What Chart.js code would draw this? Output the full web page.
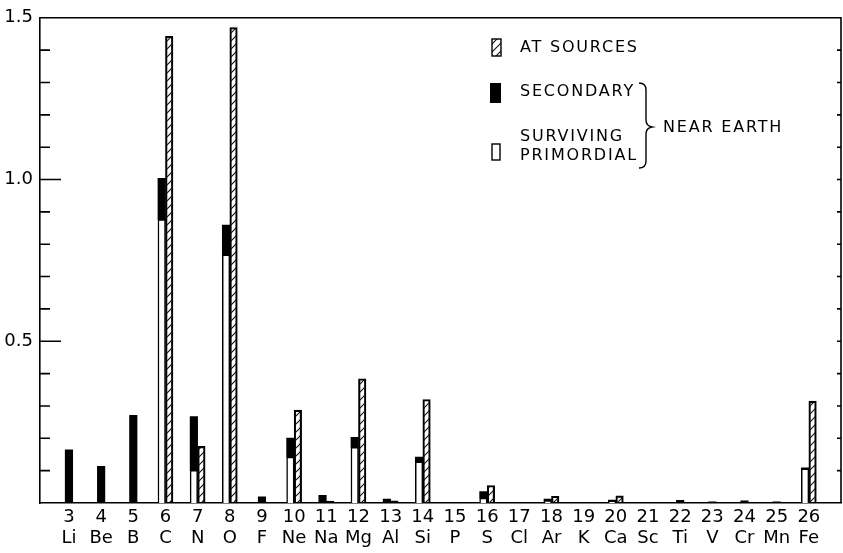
<!DOCTYPE html>
<html>
<head>
<meta charset="utf-8">
<script src="https://cdn.jsdelivr.net/npm/chart.js@4.4.0/dist/chart.umd.min.js"></script>
<style>
  html, body { margin: 0; padding: 0; background: #fff; }
</style>
</head>
<body>
<canvas id="chart" width="843" height="553"></canvas>
<script>
// Datos del gráfico
const atomicNumbers = [3, 4, 5, 6, 7, 8, 9, 10, 11, 12, 13, 14, 15, 16, 17, 18, 19, 20, 21, 22, 23, 24, 25, 26];
const elements = ['Li', 'Be', 'B', 'C', 'N', 'O', 'F', 'Ne', 'Na', 'Mg', 'Al', 'Si', 'P', 'S', 'Cl', 'Ar', 'K', 'Ca', 'Sc', 'Ti', 'V', 'Cr', 'Mn', 'Fe'];
const survivingPrimordial = [null, null, null, 0.876, 0.101, 0.767, null, 0.142, null, 0.172, null, 0.127, null, 0.015, null, 0.005, null, 0.004, null, null, null, null, null, 0.106];
const secondary = [0.164, 0.113, 0.271, 0.128, 0.166, 0.092, 0.019, 0.059, 0.024, 0.031, 0.012, 0.015, 0.002, 0.020, 0.002, 0.007, 0.002, 0.005, 0.002, 0.008, 0.004, 0.007, 0.004, 0.003];
const atSources = [null, null, null, 1.443, 0.175, 1.470, null, 0.287, 0.006, 0.384, 0.007, 0.320, null, 0.054, null, 0.021, null, 0.022, null, null, null, null, null, 0.315];
const yTickValues = [0.1, 0.2, 0.3, 0.4, 0.5, 0.6, 0.7, 0.8, 0.9, 1.0, 1.1, 1.2, 1.3, 1.4, 1.5];
const yLabelValues = [0.5, 1.0, 1.5];
const legendLabels = ['AT SOURCES', 'SECONDARY', ['SURVIVING', 'PRIMORDIAL']];
const braceLabel = 'NEAR EARTH';

const FONT = '"DejaVu Sans", sans-serif';

function makeHatch() {
    const c = document.createElement('canvas');
    c.width = 8; c.height = 8;
    const g = c.getContext('2d');
    g.strokeStyle = '#111';
    g.lineWidth = 1.1;
    g.beginPath();
    g.moveTo(0, 8); g.lineTo(8, 0);
    g.moveTo(-1, 1); g.lineTo(1, -1);
    g.moveTo(7, 9); g.lineTo(9, 7);
    g.stroke();
    return g.createPattern(c, 'repeat');
}
const hatch = makeHatch();

function points(values) {
    return atomicNumbers.map((z, i) => ({ x: z, y: values[i] }));
}

// Marco superior/derecho y marcas hacia dentro
const framePlugin = {
    id: 'frame',
    afterDatasetsDraw(chart) {
        const { ctx, chartArea: a, scales: { y } } = chart;
        ctx.save();
        ctx.strokeStyle = '#000';
        ctx.lineWidth = 1.6;
        ctx.beginPath();
        ctx.moveTo(a.left, a.top);
        ctx.lineTo(a.right, a.top);
        ctx.lineTo(a.right, a.bottom);
        yTickValues.forEach(v => {
            const py = y.getPixelForValue(v);
            const len = yLabelValues.includes(v) ? 21 : 10;
            ctx.moveTo(a.left, py);
            ctx.lineTo(a.left + len, py);
            ctx.moveTo(a.right, py);
            ctx.lineTo(a.right - 4, py);
        });
        ctx.stroke();
        ctx.restore();
    }
};

// Leyenda con llave
const legendPlugin = {
    id: 'customLegend',
    afterDraw(chart) {
        const ctx = chart.ctx;
        ctx.save();
        ctx.font = '16px ' + FONT;
        ctx.letterSpacing = '1.8px';
        ctx.fillStyle = '#000';
        ctx.strokeStyle = '#000';
        ctx.textBaseline = 'middle';
        ctx.lineWidth = 1.4;

        // AT SOURCES
        ctx.fillStyle = hatch;
        ctx.fillRect(492, 39, 9, 17);
        ctx.strokeRect(492, 39, 9, 17);
        ctx.fillStyle = '#000';
        ctx.fillText(legendLabels[0], 520, 48);

        // SECONDARY
        ctx.fillRect(490, 83, 11, 20);
        ctx.fillText(legendLabels[1], 520, 92);

        // SURVIVING PRIMORDIAL
        ctx.strokeRect(492, 144, 8, 16);
        ctx.fillText(legendLabels[2][0], 520, 137);
        ctx.fillText(legendLabels[2][1], 520, 156);

        // llave
        ctx.lineWidth = 1.4;
        ctx.beginPath();
        ctx.moveTo(639, 83);
        ctx.quadraticCurveTo(646, 83, 646, 90);
        ctx.lineTo(646, 120);
        ctx.quadraticCurveTo(646, 126, 652, 127);
        ctx.quadraticCurveTo(646, 128, 646, 134);
        ctx.lineTo(646, 161);
        ctx.quadraticCurveTo(646, 168, 639, 168);
        ctx.stroke();
        ctx.fillText(braceLabel, 663, 128);
        ctx.restore();
    }
};

new Chart(document.getElementById('chart').getContext('2d'), {
    type: 'bar',
    data: {
        datasets: [
            {
                label: 'Surviving primordial',
                data: points(survivingPrimordial),
                stack: 'near',
                backgroundColor: '#fff',
                borderColor: '#000',
                borderWidth: 1.5
            },
            {
                label: 'Secondary',
                data: points(secondary),
                stack: 'near',
                backgroundColor: '#000',
                borderWidth: 0
            },
            {
                label: 'At sources',
                data: points(atSources),
                stack: 'src',
                backgroundColor: hatch,
                borderColor: '#000',
                borderWidth: 1.5
            }
        ]
    },
    options: {
        responsive: false,
        animation: false,
        devicePixelRatio: 1,
        layout: { padding: { top: 13, right: 2, left: 0, bottom: 0 } },
        datasets: { bar: { barThickness: 7.5, skipNull: true } },
        plugins: {
            legend: { display: false },
            tooltip: { enabled: false }
        },
        scales: {
            x: {
                type: 'linear',
                offset: false,
                min: 2.1,
                max: 27.0,
                grid: { display: false, drawTicks: false },
                border: { display: true, color: '#000', width: 1.6 },
                afterBuildTicks: (scale) => {
                    scale.ticks = atomicNumbers.map(z => ({ value: z }));
                },
                afterFit: (scale) => { scale.height = 50; },
                ticks: {
                    autoSkip: false,
                    maxRotation: 0,
                    padding: 4,
                    color: '#000',
                    font: { family: FONT, size: 18, lineHeight: 1.15 },
                    callback: (value) => {
                        const i = atomicNumbers.indexOf(value);
                        return i === -1 ? '' : [String(value), elements[i]];
                    }
                }
            },
            y: {
                stacked: true,
                min: 0,
                max: 1.5,
                grid: { display: false, drawTicks: false },
                border: { display: true, color: '#000', width: 1.6 },
                afterFit: (scale) => { scale.width = 40; },
                afterBuildTicks: (scale) => {
                    scale.ticks = yLabelValues.map(v => ({ value: v }));
                },
                ticks: {
                    padding: 7,
                    color: '#000',
                    font: { family: FONT, size: 18 },
                    callback: (value) => value.toFixed(1)
                }
            }
        }
    },
    plugins: [framePlugin, legendPlugin]
});
</script>
</body>
</html>
